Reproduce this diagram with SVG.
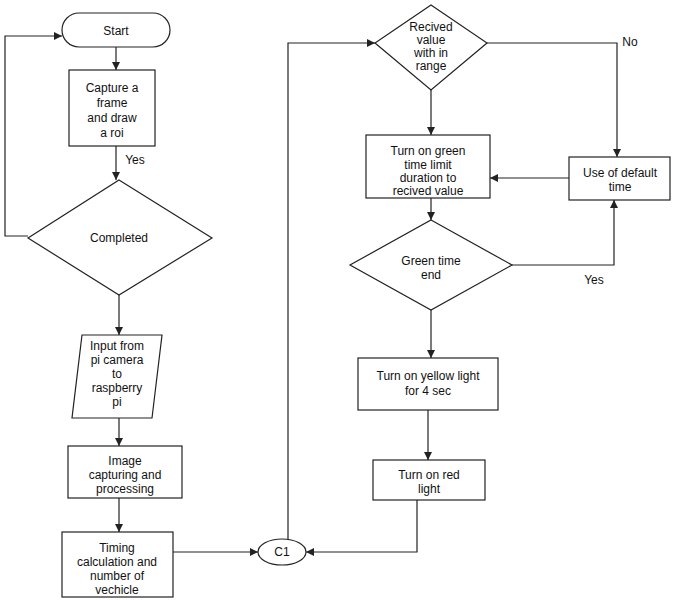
<svg xmlns="http://www.w3.org/2000/svg" width="681" height="600" viewBox="0 0 681 600">
<style>
.n{fill:#fff;stroke:#222;stroke-width:1.2}
.t{font-family:"Liberation Sans",Arial,sans-serif;font-size:12px;fill:#111;text-anchor:middle}
.c{fill:none;stroke:#222;stroke-width:1.2;marker-end:url(#a)}
</style>
<defs><marker id="a" markerWidth="10" markerHeight="10" refX="9" refY="5" orient="auto" markerUnits="userSpaceOnUse"><path d="M1,1 L9,5 L1,9 Z" fill="#222"/></marker></defs>
<rect width="681" height="600" fill="#fff"/>
<g id="connectors">
<path class="c" d="M116,47 V70"/>
<path class="c" d="M116,146 V180"/>
<path class="c" d="M28,236 H5 V36 H62"/>
<path class="c" d="M119,295 V335"/>
<path class="c" d="M119,418 V446"/>
<path class="c" d="M119,498 V532"/>
<path class="c" d="M173,552 H258"/>
<path class="c" d="M288,540 V43 H375"/>
<path class="c" d="M487,43 H617 V157"/>
<path class="c" d="M431,90 V135"/>
<path class="c" d="M569,178 H490"/>
<path class="c" d="M431,198 V220"/>
<path class="c" d="M512,265 H614 V200"/>
<path class="c" d="M431,310 V358"/>
<path class="c" d="M428,410 V460"/>
<path class="c" d="M417,500 V552 H306"/>
<text class="t" x="135" y="164">Yes</text>
<text class="t" x="630" y="46">No</text>
<text class="t" x="594" y="284">Yes</text>
</g>
<g id="start"><rect class="n" x="62" y="13" width="108" height="34" rx="17"/><text class="t" x="116" y="35" font-size="14">Start</text></g>
<g id="capture"><rect class="n" x="69" y="70" width="86" height="76"/><text class="t" font-size="13"><tspan x="112" y="92">Capture a</tspan><tspan x="112" y="107">frame</tspan><tspan x="112" y="122">and draw</tspan><tspan x="112" y="137">a roi</tspan></text></g>
<g id="completed"><polygon class="n" points="119,180 212,238 119,295 28,238"/><text class="t" x="119" y="242">Completed</text></g>
<g id="input"><polygon class="n" points="82,335 162,335 152,418 72,418"/><text class="t"><tspan x="117" y="350">Input from</tspan><tspan x="117" y="364">pi camera</tspan><tspan x="117" y="378">to</tspan><tspan x="117" y="392">raspberry</tspan><tspan x="117" y="406">pi</tspan></text></g>
<g id="image"><rect class="n" x="68" y="446" width="114" height="52"/><text class="t"><tspan x="125" y="465">Image</tspan><tspan x="125" y="479">capturing and</tspan><tspan x="125" y="493">processing</tspan></text></g>
<g id="timing"><rect class="n" x="62" y="532" width="111" height="65"/><text class="t"><tspan x="117" y="552">Timing</tspan><tspan x="117" y="566">calculation and</tspan><tspan x="117" y="580">number of</tspan><tspan x="117" y="594">vechicle</tspan></text></g>
<g id="c1"><ellipse class="n" cx="282" cy="552" rx="24" ry="13"/><text class="t" x="282" y="556">C1</text></g>
<g id="received"><polygon class="n" points="431,5 487,43 431,90 375,43"/><text class="t" font-size="11"><tspan x="431" y="31">Recived</tspan><tspan x="431" y="44">value</tspan><tspan x="431" y="57">with in</tspan><tspan x="431" y="70">range</tspan></text></g>
<g id="green"><rect class="n" x="366" y="135" width="124" height="63"/><text class="t"><tspan x="428" y="155">Turn on green</tspan><tspan x="428" y="169">time limit</tspan><tspan x="428" y="182">duration to</tspan><tspan x="428" y="195">recived value</tspan></text></g>
<g id="default"><rect class="n" x="569" y="157" width="101" height="43"/><text class="t"><tspan x="620" y="177">Use of default</tspan><tspan x="620" y="191">time</tspan></text></g>
<g id="greenend"><polygon class="n" points="431,220 512,265 431,310 350,265"/><text class="t"><tspan x="431" y="265">Green time</tspan><tspan x="431" y="279">end</tspan></text></g>
<g id="yellow"><rect class="n" x="358" y="358" width="140" height="52"/><text class="t"><tspan x="428" y="380">Turn on yellow light</tspan><tspan x="428" y="395">for 4 sec</tspan></text></g>
<g id="red"><rect class="n" x="373" y="460" width="112" height="40"/><text class="t"><tspan x="429" y="479">Turn on red</tspan><tspan x="429" y="493">light</tspan></text></g>
</svg>
